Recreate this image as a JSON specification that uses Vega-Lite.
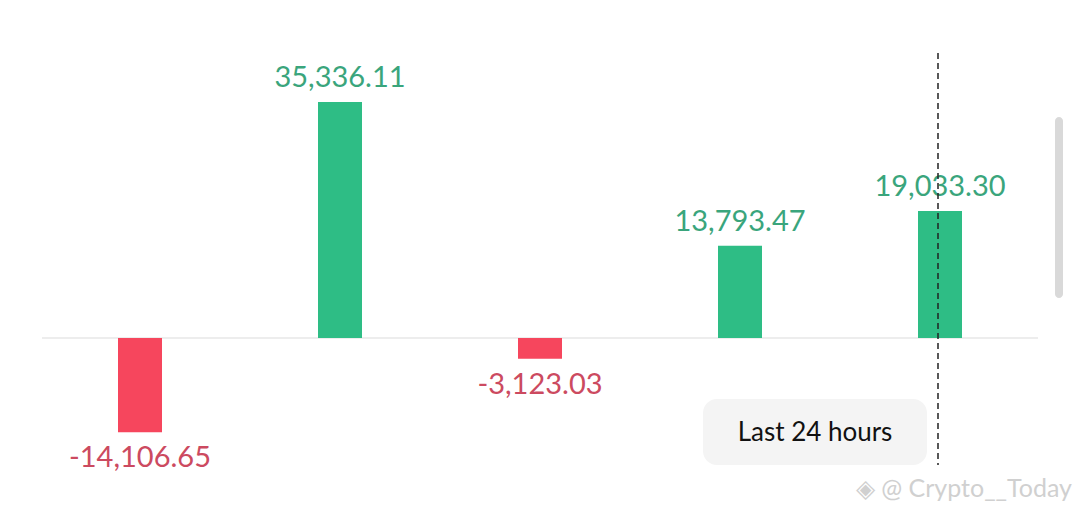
{
  "$schema": "https://vega.github.io/schema/vega-lite/v6.json",
  "autosize": {"type": "none"},
  "width": 1000,
  "height": 513,
  "padding": {"left": 40, "right": 40, "top": 0, "bottom": 0},
  "background": "white",
  "config": {"view": {"stroke": null}, "font": "Lato"},
  "data": {
    "values": [
      {"kind": "bar", "period": "1", "value": -14106.65, "label": "-14,106.65", "sign": "neg"},
      {"kind": "bar", "period": "2", "value": 35336.11, "label": "35,336.11", "sign": "pos"},
      {"kind": "bar", "period": "3", "value": -3123.03, "label": "-3,123.03", "sign": "neg"},
      {"kind": "bar", "period": "4", "value": 13793.47, "label": "13,793.47", "sign": "pos"},
      {"kind": "bar", "period": "5", "value": 19033.30, "label": "19,033.30", "sign": "pos"},
      {"kind": "cursor", "period": "5", "value": 42671, "end": -19015},
      {"kind": "box", "period": "4", "value": -9133, "end": -19015, "mid": -14224, "label": "Last 24 hours"},
      {"kind": "scroll", "period": "5", "value": 33089, "end": 5989},
      {"kind": "wm", "period": "5", "value": -22608, "label": "◈ @ Crypto__Today"}
    ]
  },
  "encoding": {
    "x": {
      "field": "period",
      "type": "nominal",
      "axis": null,
      "scale": {"type": "band", "paddingInner": 0.78, "paddingOuter": 0.39}
    },
    "y": {
      "field": "value",
      "type": "quantitative",
      "axis": null,
      "scale": {"domain": [-26202, 50607], "nice": false, "zero": false}
    }
  },
  "layer": [
    {
      "transform": [{"filter": "datum.kind == 'bar'"}],
      "mark": {"type": "rule", "color": "#ededed", "strokeWidth": 2},
      "encoding": {"x": {"value": 2}, "x2": {"value": 998}, "y": {"datum": 0, "type": "quantitative"}}
    },
    {
      "transform": [{"filter": "datum.kind == 'bar'"}],
      "mark": {"type": "bar"},
      "encoding": {
        "y2": {"datum": 0},
        "color": {
          "field": "sign",
          "type": "nominal",
          "legend": null,
          "scale": {"domain": ["pos", "neg"], "range": ["#2ebd85", "#f6465d"]}
        }
      }
    },
    {
      "transform": [{"filter": "datum.kind == 'bar' && datum.value >= 0"}],
      "mark": {"type": "text", "baseline": "alphabetic", "dy": -15, "fontSize": 29, "color": "#3aa57c"},
      "encoding": {"text": {"field": "label"}}
    },
    {
      "transform": [{"filter": "datum.kind == 'bar' && datum.value < 0"}],
      "mark": {"type": "text", "baseline": "top", "dy": 12, "fontSize": 29, "color": "#cc4a60"},
      "encoding": {"text": {"field": "label"}}
    },
    {
      "transform": [{"filter": "datum.kind == 'box'"}],
      "mark": {"type": "bar", "color": "#f4f4f4", "cornerRadius": 14, "width": 224, "xOffset": 75},
      "encoding": {"y2": {"field": "end"}}
    },
    {
      "transform": [{"filter": "datum.kind == 'box'"}],
      "mark": {"type": "text", "fontSize": 26, "color": "#111111", "baseline": "middle", "dx": 75},
      "encoding": {"y": {"field": "mid", "type": "quantitative"}, "text": {"field": "label"}}
    },
    {
      "transform": [{"filter": "datum.kind == 'cursor'"}],
      "mark": {"type": "rule", "color": "#222222", "strokeWidth": 1.5, "strokeDash": [6, 4], "xOffset": -2},
      "encoding": {"y2": {"field": "end"}}
    },
    {
      "transform": [{"filter": "datum.kind == 'scroll'"}],
      "mark": {"type": "bar", "color": "#d9d9d9", "cornerRadius": 4, "width": 8, "xOffset": 119},
      "encoding": {"y2": {"field": "end"}}
    },
    {
      "transform": [{"filter": "datum.kind == 'wm'"}],
      "mark": {"type": "text", "align": "right", "baseline": "middle", "fontSize": 25, "color": "#d0d0d0", "dx": 132},
      "encoding": {"text": {"field": "label"}}
    }
  ]
}
